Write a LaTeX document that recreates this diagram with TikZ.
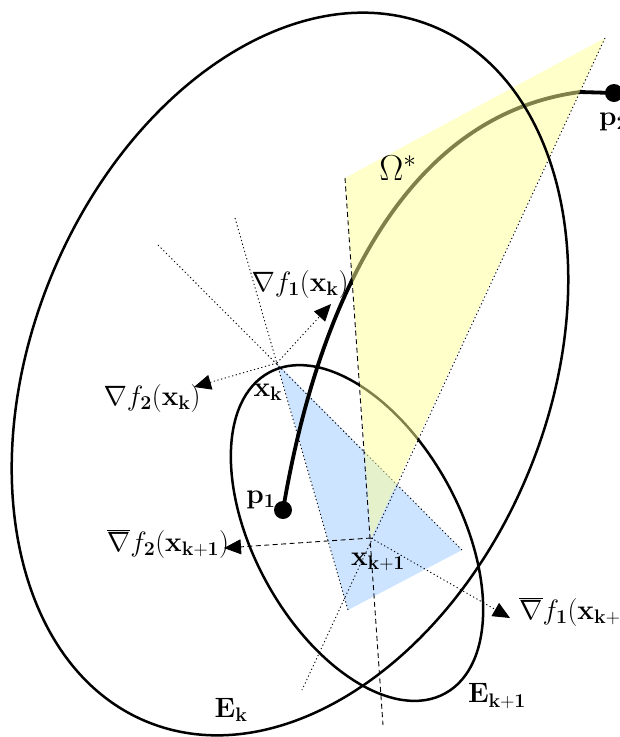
\RequirePackage{fix-cm}
\documentclass[tikz,border=0pt]{standalone}
\usetikzlibrary{arrows.meta}
\definecolor{omegafill}{RGB}{255,255,150}
\definecolor{cellfill}{RGB}{204,228,255}
\begin{document}
\begin{tikzpicture}[x=1pt, y=-1pt,
    ell/.style={line width=2.5pt},
    dotline/.style={line width=0.9pt, dash pattern=on 1.2pt off 2.6pt},
    dashline/.style={line width=0.9pt, dash pattern=on 5pt off 3.5pt},
    grad/.style={-{Triangle[length=17pt, width=15pt]}},
    lbl/.style={font=\fontsize{28}{32}\selectfont, inner sep=0pt},
    dot/.style={circle, fill=black, minimum size=18pt, inner sep=0pt}]
    \useasboundingbox (0,0) rectangle (620,737);
    \clip (0,0) rectangle (620,737);

    % Points of the iteration
    \coordinate (xk) at (277,363);
    \coordinate (xk1) at (371,538);
    \coordinate (cEk) at (290,374);
    \coordinate (cEk1) at (357,533);
    \coordinate (b1) at (462,550);
    \coordinate (b2) at (348,610);
    \coordinate (y1) at (345,178);
    \coordinate (y2) at (605,38);
    \coordinate (l1) at (235,218);
    \coordinate (l2) at (158,245);
    \coordinate (l3) at (383,725);
    \coordinate (l4) at (302,690);
    \coordinate (g1k) at (331,304);
    \coordinate (g2k) at (194,387);
    \coordinate (g2k1) at (224,548);
    \coordinate (g1k1) at (510,618);

    % Cone at x_k (blue)
    \fill[cellfill] (xk) -- (b1) -- (b2) -- cycle;
    \draw[dotline] (l1) -- (b2);
    \draw[dotline] (l2) -- (b1);

    % Gradients at x_k
    \draw[dotline, grad] (xk) -- (g1k);
    \draw[dotline, grad] (xk) -- (g2k);

    % Ellipse E_{k+1}
    \draw[ell, rotate around={-61.2:(cEk1)}] (cEk1) ellipse [x radius=183, y radius=103];

    % Pareto path from p_1 to p_2
    \node[dot] (p1) at (283,510) {};
    \node[dot] (p2) at (614,93) {};
    \draw[line width=3.8pt] (p1.center) .. controls (305,380) and (370,120) .. (580,92) -- (p2.center);

    % Cone Omega* (yellow, see-through)
    \fill[omegafill, fill opacity=0.5] (xk1) -- (y1) -- (y2) -- cycle;
    \draw[dashline] (y1) -- (l3);
    \draw[dotline] (y2) -- (l4);

    % Gradients at x_{k+1}
    \draw[dashline, grad] (xk1) -- (g2k1);
    \draw[dotline, grad] (xk1) -- (g1k1);

    % Ellipse E_k
    \draw[ell, rotate around={67.6:(cEk)}] (cEk) ellipse [x radius=376, y radius=258];

    % Labels
    \node[lbl] (omega) at (398,168) {\fontsize{36}{40}\selectfont$\Omega^*$};
    \node[lbl] (n1k) at (300,284) {$\nabla f_{\mathbf{1}}(\mathbf{x}_{\mathbf{k}})$};
    \node[lbl] (n2k) at (152,398) {$\nabla f_{\mathbf{2}}(\mathbf{x}_{\mathbf{k}})$};
    \node[lbl] (lxk) at (268,392) {$\mathbf{x}_{\mathbf{k}}$};
    \node[lbl] (lp1) at (261,500) {$\mathbf{p}_{\mathbf{1}}$};
    \node[lbl, anchor=west] (lp2) at (599,122) {$\mathbf{p}_{\mathbf{2}}$};
    \node[lbl] (n2k1) at (168,544) {$\overline{\nabla} f_{\mathbf{2}}(\mathbf{x}_{\mathbf{k+1}})$};
    \node[lbl] (lxk1) at (378,562) {$\mathbf{x}_{\mathbf{k+1}}$};
    \node[lbl, anchor=west] (n1k1) at (519,612) {$\overline{\nabla} f_{\mathbf{1}}(\mathbf{x}_{\mathbf{k+1}})$};
    \node[lbl] (lEk) at (231,710) {$\mathbf{E}_{\mathbf{k}}$};
    \node[lbl] (lEk1) at (497,696) {$\mathbf{E}_{\mathbf{k+1}}$};
\end{tikzpicture}
\end{document}
